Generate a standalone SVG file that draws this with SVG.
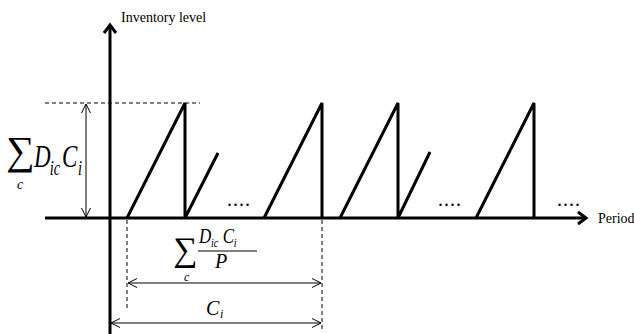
<svg xmlns="http://www.w3.org/2000/svg" width="634" height="334" viewBox="0 0 634 334">
<style>
.ax{stroke:#000;stroke-width:3;fill:none}
.saw{stroke:#000;stroke-width:3;fill:none;stroke-linejoin:miter}
.dim{stroke:#000;stroke-width:1;fill:none}
.dash{stroke:#000;stroke-width:1;fill:none;stroke-dasharray:4,3}
.lbl{font-family:"Liberation Serif","Times New Roman","DejaVu Serif",serif;fill:#000}
.math{font-family:"Liberation Serif","Times New Roman","DejaVu Serif",serif;font-style:italic;fill:#000}
</style>
<defs>
<marker id="bigArrow" markerWidth="16" markerHeight="16" refX="11" refY="8" orient="auto" markerUnits="userSpaceOnUse">
<path d="M3,2 L11,8 L3,14" fill="none" stroke="#000" stroke-width="3"/>
</marker>
<marker id="thinArrow" markerWidth="14" markerHeight="12" refX="12" refY="6" orient="auto-start-reverse" markerUnits="userSpaceOnUse">
<path d="M3,1.5 L12,6 L3,10.5" fill="none" stroke="#000" stroke-width="1"/>
</marker>
</defs>

<g id="connectors">
<line class="ax" x1="110" y1="334" x2="110" y2="25" marker-end="url(#bigArrow)"/>
<line class="ax" x1="45" y1="218" x2="586" y2="218" marker-end="url(#bigArrow)"/>
<line class="dash" x1="45" y1="103" x2="200" y2="103"/>
<line class="dim" x1="86" y1="104" x2="86" y2="217" marker-start="url(#thinArrow)" marker-end="url(#thinArrow)"/>
<line class="dash" x1="127" y1="220" x2="127" y2="308"/>
<line class="dash" x1="322" y1="220" x2="322" y2="332"/>
<line class="dim" x1="128" y1="283" x2="321" y2="283" marker-start="url(#thinArrow)" marker-end="url(#thinArrow)"/>
<line class="dim" x1="111" y1="323" x2="321" y2="323" marker-start="url(#thinArrow)" marker-end="url(#thinArrow)"/>
</g>

<g id="sawtooth">
<polyline class="saw" points="127,218 185,103 185,218 218,153"/>
<polyline class="saw" points="264,218 322,103 322,218"/>
<polyline class="saw" points="340,218 398,103 398,218 430,152"/>
<polyline class="saw" points="476,218 534,103 534,218"/>
</g>

<g id="dots">
<text class="lbl" x="227" y="206" font-size="20" letter-spacing="1">....</text>
<text class="lbl" x="438" y="206" font-size="20" letter-spacing="1">....</text>
<text class="lbl" x="557" y="206" font-size="20" letter-spacing="1">....</text>
</g>

<g id="axis-labels">
<text class="lbl" x="121" y="22" font-size="14">Inventory level</text>
<text class="lbl" x="598" y="223" font-size="14">Period</text>
</g>

<g id="label-sum-DC">
<text class="lbl" x="6" y="164" font-size="40">∑</text>
<text class="math" x="17" y="189" font-size="14">c</text>
<g transform="translate(34,167) scale(0.72,1)">
<text class="math" x="0" y="0" font-size="32">D</text>
<text class="math" x="22" y="8" font-size="20">ic</text>
<text class="math" x="39" y="0" font-size="32">C</text>
<text class="math" x="61" y="8" font-size="20">i</text>
</g>
</g>

<g id="label-sum-frac">
<text class="lbl" x="173" y="261" font-size="34">∑</text>
<text class="math" x="184" y="281" font-size="12">c</text>
<g transform="translate(199,243) scale(0.85,1)">
<text class="math" x="0" y="0" font-size="20">D</text>
<text class="math" x="14" y="4" font-size="12">ic</text>
<text class="math" x="28" y="0" font-size="20">C</text>
<text class="math" x="41" y="4" font-size="12">i</text>
</g>
<line x1="198" y1="251" x2="257" y2="251" stroke="#000" stroke-width="1"/>
<text class="math" x="215" y="268" font-size="20">P</text>
</g>

<g id="label-Ci">
<text class="math" x="206" y="315" font-size="20">C</text>
<text class="math" x="220" y="318" font-size="12">i</text>
</g>
</svg>
